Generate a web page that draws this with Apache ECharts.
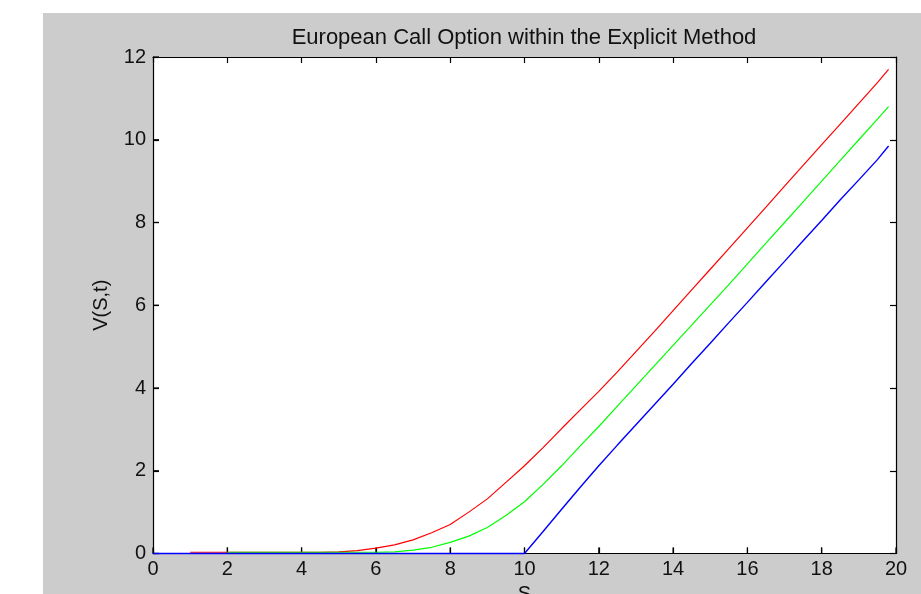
<!DOCTYPE html>
<html>
<head>
<meta charset="utf-8">
<script src="https://cdn.jsdelivr.net/npm/echarts@6/dist/echarts.min.js"></script>
<style>
html,body{margin:0;padding:0;background:#fff;}
#c{width:921px;height:594px;}
</style>
</head>
<body>
<div id="c"></div>
<script>
// Asset price grid S
const sGrid = [0,0.5,1,1.5,2,2.5,3,3.5,4,4.5,5,5.5,6,6.5,7,7.5,8,8.5,9,9.5,10,10.5,11,11.5,12,12.5,13,13.5,14,14.5,15,15.5,16,16.5,17,17.5,18,18.5,19,19.5,19.8];
// V(S,t) (null = not drawn)
const redV   = [null,null,0.03,0.03,0.03,0.03,0.03,0.03,0.03,0.03,0.04,0.07,0.13,0.21,0.33,0.50,0.70,1.00,1.32,1.72,2.12,2.56,3.02,3.47,3.92,4.39,4.88,5.37,5.87,6.37,6.87,7.37,7.87,8.37,8.88,9.38,9.88,10.38,10.88,11.38,11.70];
const greenV = [null,null,null,null,0.03,0.03,0.03,0.03,0.03,0.03,0.03,0.03,0.03,0.04,0.08,0.15,0.27,0.42,0.63,0.92,1.25,1.67,2.12,2.60,3.07,3.56,4.05,4.54,5.03,5.52,6.01,6.50,7.00,7.50,8.00,8.50,9.00,9.50,10.00,10.50,10.80];
const blueV  = [0,0,0,0,0,0,0,0,0,0,0,0,0,0,0,0,0,0,0,0,0,0.53,1.07,1.60,2.12,2.62,3.11,3.60,4.09,4.59,5.08,5.58,6.07,6.57,7.06,7.56,8.05,8.55,9.03,9.52,9.85];
const xTicks = {min:0,max:20,interval:2};
const yTicks = {min:0,max:12,interval:2};
const titleText = 'European Call Option within the Explicit Method';
const xName = 'S';
const yName = 'V(S,t)';

function pairs(v){ return sGrid.map((s,i)=>[s,v[i]]); }

const FONT = '"Liberation Sans", Arial, sans-serif';
const txt = '#111';
const TICK_LEN = 6;
const chart = echarts.init(document.getElementById('c'), null, {renderer:'canvas'});
const tick = {show:true, inside:true, length:TICK_LEN, lineStyle:{color:'#000',width:1.2}};
const axLine = {show:true, onZero:false, lineStyle:{color:'#000',width:1.2}};
const axLinePrimary = {show:true, lineStyle:{color:'#000',width:1.2}};
chart.setOption({
  backgroundColor:'#fff',
  animation:false,
  graphic:[{type:'rect', id:'bg', z:-10, silent:true, shape:{x:43,y:13,width:878,height:581}, style:{fill:'#cccccc'}}],
  title:{text:titleText, left:519, top:22, textAlign:'center',
    textStyle:{fontFamily:FONT,fontSize:22,fontWeight:'normal',color:txt}},
  grid:{left:153, top:57, right:25, bottom:40.5, show:true, backgroundColor:'#fff', borderWidth:0, z:0,
    containLabel:false, outerBoundsMode:'none'},
  xAxis:[
    {type:'value', position:'bottom', z:3, min:xTicks.min, max:xTicks.max, interval:xTicks.interval,
     name:xName, nameLocation:'middle', nameGap:30, nameTextStyle:{fontFamily:FONT,fontSize:20,color:txt},
     axisLine:axLinePrimary, axisTick:tick, splitLine:{show:false},
     axisLabel:{fontFamily:FONT,fontSize:20,color:txt,margin:6}},
    {type:'value', position:'top', z:3, min:xTicks.min, max:xTicks.max, interval:xTicks.interval,
     axisLine:axLine, axisTick:tick, splitLine:{show:false}, axisLabel:{show:false}}
  ],
  yAxis:[
    {type:'value', position:'left', z:3, min:yTicks.min, max:yTicks.max, interval:yTicks.interval,
     name:yName, nameLocation:'middle', nameGap:42, nameTextStyle:{fontFamily:FONT,fontSize:20,color:txt},
     axisLine:axLinePrimary, axisTick:tick, splitLine:{show:false},
     axisLabel:{fontFamily:FONT,fontSize:20,color:txt,margin:7}},
    {type:'value', position:'right', z:3, min:yTicks.min, max:yTicks.max, interval:yTicks.interval,
     axisLine:axLine, axisTick:tick, splitLine:{show:false}, axisLabel:{show:false}}
  ],
  series:[
    {type:'line', data:pairs(redV), showSymbol:false, connectNulls:false, clip:false, z:5, lineStyle:{color:'#ff0000',width:1.2}, itemStyle:{color:'#ff0000'}},
    {type:'line', data:pairs(greenV), showSymbol:false, connectNulls:false, clip:false, z:5, lineStyle:{color:'#00ff00',width:1.2}, itemStyle:{color:'#00ff00'}},
    {type:'line', data:pairs(blueV), showSymbol:false, connectNulls:false, clip:false, z:5, lineStyle:{color:'#0000ff',width:1.4}, itemStyle:{color:'#0000ff'}}
  ]
});

// Inward tick marks on the bottom and left axes, placed through the library's own scales
const extra = [];
const y0 = chart.convertToPixel({yAxisIndex:0}, yTicks.min);
const x0 = chart.convertToPixel({xAxisIndex:0}, xTicks.min);
for (let v = xTicks.min; v <= xTicks.max; v += xTicks.interval) {
  const px = chart.convertToPixel({xAxisIndex:0}, v);
  extra.push({type:'line', z:4, silent:true, shape:{x1:px, y1:y0, x2:px, y2:y0 - TICK_LEN}, style:{stroke:'#000', lineWidth:1.2}});
}
for (let v = yTicks.min; v <= yTicks.max; v += yTicks.interval) {
  const py = chart.convertToPixel({yAxisIndex:0}, v);
  extra.push({type:'line', z:4, silent:true, shape:{x1:x0, y1:py, x2:x0 + TICK_LEN, y2:py}, style:{stroke:'#000', lineWidth:1.2}});
}
chart.setOption({graphic:[{type:'rect', id:'bg', z:-10, silent:true, shape:{x:43,y:13,width:878,height:581}, style:{fill:'#cccccc'}}].concat(extra)});
</script>
</body>
</html>
